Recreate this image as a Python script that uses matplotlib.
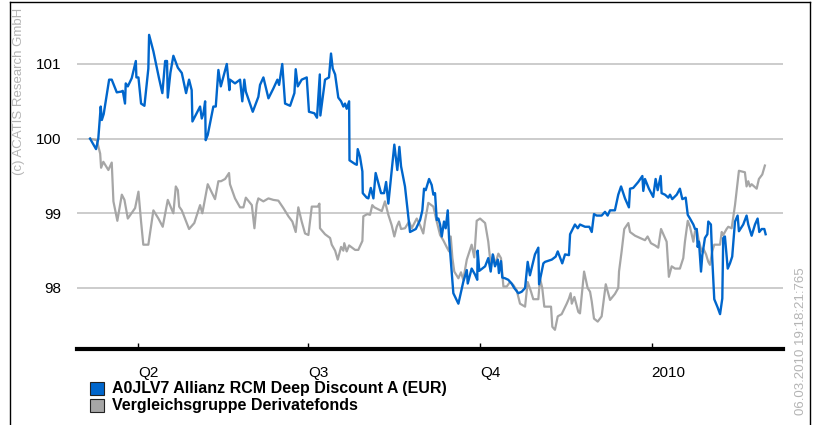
import matplotlib
matplotlib.use("Agg")
import matplotlib.pyplot as plt
from matplotlib.lines import Line2D
from matplotlib.patches import Rectangle

plt.rcParams['font.family'] = ['Liberation Sans', 'DejaVu Sans']

# day of year counted from 1 Jan 2009 (365 = 1 Jan 2010)
fund_day = [64.3, 67.5, 68.7, 70.0, 70.6, 71.6, 74.5, 75.9, 78.6, 80.9, 81.8, 83.0, 83.4, 84.5, 86.6,
            88.8, 89.1, 90.2, 91.6, 93.4, 95.5, 95.9, 98.2, 101.2, 103.0, 104.5, 105.5, 105.9, 107.3,
            108.9, 111.3, 113.4, 115.7, 117.3, 118.7, 119.1, 123.2, 124.1, 125.0, 125.9, 126.2, 127.3,
            130.3, 131.6, 133.0, 134.3, 137.5, 138.9, 139.2, 141.9, 144.6, 145.8, 146.9, 147.7, 151.4,
            154.4, 155.3, 157.1, 159.8, 162.4, 164.6, 165.5, 167.2, 168.7, 171.4, 173.7, 174.4, 175.5,
            177.6, 180.3, 181.5, 184.4, 185.8, 187.3, 187.6, 190.1, 192.2, 193.3, 194.2, 195.5, 197.2,
            198.7, 199.9, 200.8, 201.7, 203.0, 203.2, 206.2, 207.1, 207.6, 208.8, 210.1, 210.3, 212.4,
            213.3, 214.6, 216.0, 217.2, 220.1, 221.7, 222.8, 224.0, 227.2, 228.8, 229.9, 230.8, 232.9,
            235.6, 238.7, 241.0, 242.2, 243.1, 244.0, 245.8, 247.2, 248.1, 249.0, 249.9, 250.8, 251.7,
            252.6, 253.8, 254.7, 255.8, 256.5, 258.8, 261.5, 264.1, 266.0, 266.5, 268.6, 270.4, 271.6,
            271.8, 272.7, 275.8, 277.5, 278.8, 279.9, 281.1, 282.6, 283.2, 284.3, 285.0, 286.5, 288.2,
            290.0, 291.4, 293.6, 295.4, 297.2, 298.6, 299.8, 302.5, 304.3, 304.7, 307.0, 307.9, 311.5,
            313.6, 314.7, 317.1, 318.6, 320.7, 321.3, 323.9, 325.4, 326.6, 327.5, 329.3, 331.6, 332.9,
            334.1, 335.5, 338.2, 340.0, 341.4, 342.7, 345.3, 347.1, 348.6, 350.7, 352.8, 353.4, 355.1,
            357.8, 360.0, 360.5, 361.4, 363.5, 365.8, 367.1, 368.2, 369.8, 370.3, 372.1, 373.9, 374.8,
            376.0, 378.4, 380.1, 381.4, 383.2, 384.3, 385.5, 387.3, 388.2, 389.1, 389.6, 390.3, 391.4,
            392.1, 393.5, 394.8, 395.3, 396.7, 397.4, 398.5, 400.3, 401.6, 402.8, 403.3, 404.2, 405.7,
            406.9, 408.1, 409.6, 411.0, 411.7, 414.0, 415.8, 416.7, 418.5, 420.3, 421.7, 422.6, 423.9,
            425.3, 426.0]
fund_val = [100.00, 99.86, 100.00, 100.43, 100.25, 100.33, 100.79, 100.79, 100.62, 100.63, 100.64, 100.47,
            100.74, 100.70, 100.81, 101.04, 100.82, 100.82, 100.47, 100.44, 100.94, 101.39, 101.17, 100.81,
            100.61, 101.04, 101.04, 100.55, 100.88, 101.11, 100.95, 100.88, 100.61, 100.79, 100.65, 100.23,
            100.43, 100.27, 100.34, 100.50, 99.98, 100.05, 100.43, 100.43, 100.92, 100.70, 101.00, 100.65,
            100.79, 100.74, 100.79, 100.50, 100.79, 100.63, 100.36, 100.56, 100.72, 100.82, 100.54, 100.67,
            100.79, 100.72, 101.00, 100.47, 100.44, 100.61, 100.93, 100.70, 100.79, 100.82, 100.36, 100.34,
            100.28, 100.86, 100.31, 100.79, 100.82, 101.14, 100.94, 100.86, 100.55, 100.50, 100.43, 100.47,
            100.40, 100.50, 99.71, 99.66, 99.65, 99.86, 99.76, 99.56, 99.27, 99.21, 99.20, 99.34, 99.20,
            99.54, 99.27, 99.27, 99.42, 99.13, 99.92, 99.58, 99.89, 99.63, 99.36, 98.75, 98.79, 98.91,
            99.04, 99.33, 99.31, 99.46, 99.38, 99.25, 99.27, 98.91, 98.93, 98.85, 98.69, 98.89, 98.80,
            99.04, 98.67, 97.93, 97.79, 98.08, 98.24, 98.06, 98.26, 98.18, 98.11, 98.50, 98.23, 98.29,
            98.40, 98.22, 98.45, 98.29, 98.38, 98.20, 98.36, 98.14, 98.13, 98.11, 98.06, 98.00, 97.93,
            97.95, 98.00, 98.35, 98.17, 98.45, 98.54, 98.05, 98.33, 98.35, 98.38, 98.42, 98.49, 98.33,
            98.45, 98.44, 98.72, 98.85, 98.80, 98.85, 98.84, 98.82, 98.82, 98.75, 98.99, 98.97, 98.97,
            99.02, 98.97, 99.04, 99.04, 99.25, 99.36, 99.20, 99.08, 99.33, 99.34, 99.42, 99.50, 99.30,
            99.46, 99.33, 99.22, 99.46, 99.31, 99.50, 99.27, 99.25, 99.21, 99.25, 99.19, 99.25, 99.33,
            99.19, 99.21, 98.98, 98.93, 98.85, 98.79, 98.79, 98.55, 98.62, 98.22, 98.44, 98.67, 98.72,
            98.89, 98.85, 98.40, 97.85, 97.74, 97.65, 97.86, 98.67, 98.69, 98.26, 98.33, 98.42, 98.89,
            98.97, 98.76, 98.85, 98.97, 98.85, 98.70, 98.85, 98.93, 98.75, 98.79, 98.79, 98.72]

peer_day = [64.3, 67.9, 69.7, 70.2, 71.4, 74.1, 75.9, 76.8, 78.9, 81.3, 82.7, 84.5, 88.4, 90.2, 91.6,
            92.8, 95.5, 98.2, 100.9, 103.2, 105.9, 108.9, 110.2, 111.3, 112.0, 113.4, 117.3, 120.1,
            123.2, 124.4, 127.3, 131.2, 133.0, 134.4, 136.6, 138.7, 139.2, 141.9, 144.6, 146.4, 147.7,
            150.9, 152.3, 153.5, 154.4, 157.1, 159.8, 162.4, 165.1, 167.8, 170.5, 172.6, 174.4, 175.8,
            177.6, 179.4, 181.2, 183.0, 186.2, 187.1, 187.4, 190.1, 192.8, 193.7, 195.5, 196.9, 198.7,
            199.9, 200.4, 201.7, 203.0, 206.2, 207.9, 210.1, 210.6, 212.7, 214.2, 215.4, 216.5, 220.5,
            222.2, 224.0, 225.8, 227.2, 228.5, 229.7, 230.8, 232.9, 235.1, 236.5, 239.2, 241.0, 242.7,
            243.6, 245.4, 248.1, 249.9, 251.7, 253.4, 255.2, 256.5, 257.4, 258.3, 259.3, 261.5, 262.9,
            264.1, 266.0, 268.6, 270.0, 271.3, 273.1, 275.8, 277.5, 278.8, 280.2, 281.1, 282.9, 284.3,
            285.6, 287.4, 289.1, 290.9, 292.7, 294.5, 297.2, 298.6, 300.4, 301.6, 304.3, 305.2, 306.4,
            307.5, 311.1, 311.8, 313.2, 314.7, 316.8, 319.5, 320.7, 321.6, 322.2, 323.6, 325.7, 326.6,
            328.8, 330.7, 332.0, 332.9, 334.1, 336.1, 338.2, 340.4, 342.7, 345.3, 347.1, 347.5, 348.9,
            350.3, 352.5, 353.4, 356.1, 359.6, 361.4, 362.8, 364.6, 366.8, 368.5, 370.0, 373.0, 374.2,
            375.7, 377.5, 380.1, 381.9, 382.8, 384.3, 385.5, 387.3, 388.2, 389.1, 390.3, 391.8, 392.6,
            394.1, 395.3, 396.2, 397.4, 398.5, 401.6, 402.5, 403.3, 405.1, 406.0, 407.8, 409.6, 411.7,
            414.9, 415.8, 416.7, 417.6, 418.5, 421.2, 422.4, 424.2, 425.6]
peer_val = [100.00, 99.98, 99.80, 99.61, 99.69, 99.58, 99.68, 99.16, 98.90, 99.25, 99.18, 98.93, 99.07,
            99.29, 98.89, 98.58, 98.58, 99.04, 98.93, 98.82, 99.18, 99.00, 99.36, 99.31, 99.09, 99.04,
            98.79, 98.87, 99.11, 99.00, 99.39, 99.19, 99.43, 99.43, 99.46, 99.54, 99.39, 99.20, 99.08,
            99.08, 99.21, 99.11, 98.80, 99.12, 99.20, 99.16, 99.20, 99.18, 99.17, 99.07, 98.96, 98.89,
            98.75, 99.08, 98.89, 98.73, 98.71, 99.09, 99.09, 99.13, 98.80, 98.72, 98.67, 98.58, 98.50,
            98.38, 98.55, 98.50, 98.60, 98.49, 98.57, 98.51, 98.51, 98.63, 98.96, 98.99, 98.98, 99.11,
            99.08, 99.03, 99.16, 98.98, 98.84, 98.69, 98.82, 98.89, 98.79, 98.80, 98.89, 98.80, 98.93,
            98.84, 98.73, 98.89, 99.14, 99.09, 98.89, 98.71, 98.64, 98.55, 98.49, 98.69, 98.40, 98.22,
            98.13, 98.21, 98.11, 98.38, 98.58, 98.41, 98.90, 98.93, 98.87, 98.62, 98.31, 98.44, 98.31,
            98.46, 98.40, 98.02, 98.02, 98.08, 98.04, 97.97, 97.79, 97.75, 98.08, 97.95, 97.85, 97.85,
            98.13, 98.00, 97.75, 97.75, 97.48, 97.44, 97.62, 97.65, 97.79, 97.86, 97.93, 97.79, 97.88,
            97.68, 97.66, 98.22, 98.00, 97.95, 97.82, 97.59, 97.55, 97.62, 98.05, 97.84, 97.92, 98.00,
            98.22, 98.49, 98.79, 98.87, 98.75, 98.70, 98.66, 98.64, 98.69, 98.60, 98.57, 98.54, 98.79,
            98.62, 98.15, 98.29, 98.26, 98.26, 98.40, 98.62, 98.90, 98.82, 98.62, 98.76, 98.79, 98.62,
            98.49, 98.53, 98.45, 98.35, 98.31, 98.49, 98.58, 98.58, 98.75, 98.71, 98.79, 98.82, 98.80,
            99.11, 99.57, 99.55, 99.36, 99.43, 99.36, 99.39, 99.33, 99.46, 99.52, 99.64]

tick_days = [90, 181, 273, 365]
tick_labels = ["Q2", "Q3", "Q4", "2010"]
y_ticks = [98, 99, 100, 101]
series_names = ["A0JLV7 Allianz RCM Deep Discount A (EUR)", "Vergleichsgruppe Derivatefonds"]
series_colors = ["#0066cc", "#a6a6a6"]

W, H = 815, 425
fig = plt.figure(figsize=(W / 100, H / 100), dpi=100)
ax = fig.add_axes([77 / W, 1 - 349 / H, (783 - 77) / W, (349 - 10) / H])

ax.plot(peer_day, peer_val, color=series_colors[1], lw=1.6, zorder=3)
ax.plot(fund_day, fund_val, color=series_colors[0], lw=1.7, zorder=4)

ax.set_xlim(57.3, 435.3)
ax.set_ylim(97.183, 101.723)

ax.set_yticks(y_ticks)
ax.set_yticklabels([str(v) for v in y_ticks])
ax.yaxis.grid(True, color="#c4c4c4", lw=1.2)
ax.set_axisbelow(True)
ax.tick_params(axis="y", length=0, pad=11, labelsize=11)

ax.set_xticks(tick_days)
ax.set_xticklabels(tick_labels)
ax.tick_params(axis="x", direction="in", length=4.5, width=1, pad=12, labelsize=11)
for lab in ax.get_xticklabels():
    lab.set_horizontalalignment("left")

for s in ["top", "left", "right"]:
    ax.spines[s].set_visible(False)
ax.spines["bottom"].set_linewidth(3)
ax.spines["bottom"].set_color("black")

# outer frame (left, top, right)
fig.add_artist(Line2D([10 / W, 10 / W], [0, 1 - 2 / H], color="black", lw=1, transform=fig.transFigure))
fig.add_artist(Line2D([10 / W, 810 / W], [1 - 2 / H, 1 - 2 / H], color="black", lw=1, transform=fig.transFigure))
fig.add_artist(Line2D([810 / W, 810 / W], [0, 1 - 2 / H], color="black", lw=1, transform=fig.transFigure))

fig.text(19 / W, 1 - 8 / H, "(c) ACATIS Research GmbH", rotation=90, ha="center", va="top",
         color="#b4b4b4", fontsize=9.5)
fig.text(801 / W, 1 - 415 / H, "06.03.2010 19:18:21:765", rotation=90, ha="center", va="bottom",
         color="#b4b4b4", fontsize=9.5)

# legend
for i, (name, col) in enumerate(zip(series_names, series_colors)):
    top = 381.7 + 17.3 * i
    fig.add_artist(Rectangle((90 / W, 1 - (top + 13.3) / H), 14 / W, 13.3 / H, facecolor=col,
                             edgecolor="#222222", lw=0.8, transform=fig.transFigure))
    fig.text(111.7 / W, 1 - (top + 6.8) / H, name, ha="left", va="center", fontsize=11.5,
             fontweight="bold", color="black")

fig.savefig("out.png", dpi=100)
